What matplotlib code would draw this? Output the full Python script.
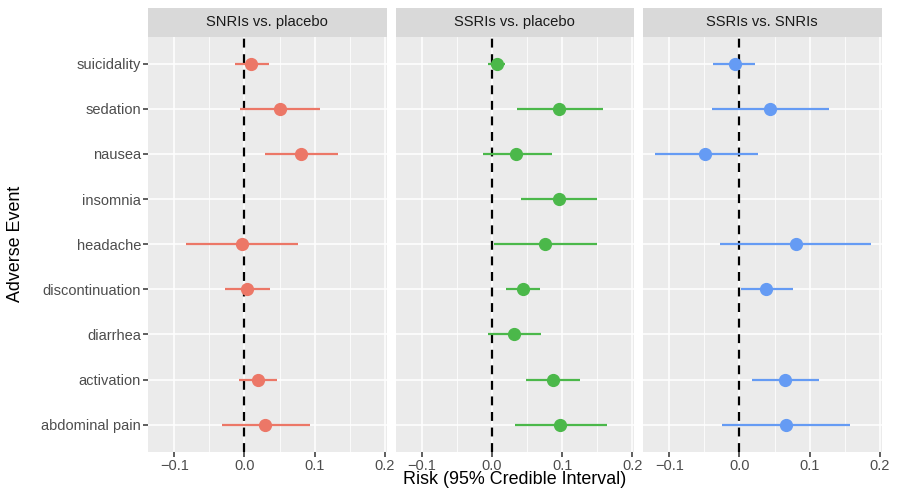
import matplotlib.pyplot as plt
import numpy as np

plt.switch_backend('Agg')
plt.rcParams['font.family'] = ['Liberation Sans', 'DejaVu Sans']

events = ["suicidality", "sedation", "nausea", "insomnia", "headache",
          "discontinuation", "diarrhea", "activation", "abdominal pain"]
panels = ["SNRIs vs. placebo", "SSRIs vs. placebo", "SSRIs vs. SNRIs"]
colors = ["#EC7767", "#4BB84A", "#659BF4"]

# estimate, lower, upper per event (nan = not reported)
nan = np.nan
snri_est = [0.010, 0.050, 0.081, nan, -0.003, 0.004, nan, 0.019, 0.030]
snri_lo = [-0.014, -0.007, 0.029, nan, -0.084, -0.028, nan, -0.008, -0.032]
snri_hi = [0.035, 0.107, 0.134, nan, 0.077, 0.037, nan, 0.047, 0.094]

ssri_est = [0.007, 0.095, 0.034, 0.095, 0.076, 0.044, 0.032, 0.087, 0.097]
ssri_lo = [-0.005, 0.036, -0.013, 0.041, 0.003, 0.020, -0.006, 0.049, 0.033]
ssri_hi = [0.019, 0.158, 0.085, 0.150, 0.150, 0.068, 0.070, 0.126, 0.164]

diff_est = [-0.007, 0.043, -0.049, nan, 0.080, 0.038, nan, 0.065, 0.067]
diff_lo = [-0.037, -0.039, -0.120, nan, -0.028, 0.002, nan, 0.018, -0.025]
diff_hi = [0.022, 0.127, 0.026, nan, 0.187, 0.077, nan, 0.113, 0.158]

series = [(snri_est, snri_lo, snri_hi),
          (ssri_est, ssri_lo, ssri_hi),
          (diff_est, diff_lo, diff_hi)]

W, H = 897, 496
fig = plt.figure(figsize=(W / 100, H / 100), dpi=100)

ypos = np.arange(len(events))[::-1] + 1  # suicidality at top
lefts = [148, 395.5, 643]
pw = 238.5
ptop, pbot = 36.7, 451.7
strip_h = 28.5

for i, (name, (est, lo, hi)) in enumerate(zip(panels, series)):
    ax = fig.add_axes([lefts[i] / W, 1 - pbot / H, pw / W, (pbot - ptop) / H])
    ax.set_facecolor("#EBEBEB")
    for s in ax.spines.values():
        s.set_visible(False)
    ax.set_xlim(-0.1375, 0.2025)
    ax.set_ylim(0.4, len(events) + 0.6)
    ax.set_xticks([-0.1, 0.0, 0.1, 0.2])
    ax.set_xticks([-0.05, 0.05, 0.15], minor=True)
    ax.set_yticks(ypos)
    ax.grid(True, which='major', color='white', linewidth=1.1)
    ax.grid(True, which='minor', axis='x', color='white', linewidth=0.55)
    ax.set_axisbelow(True)
    ax.tick_params(axis='both', which='major', length=3.5, width=1.1,
                   color='#333333', labelcolor='#4D4D4D', labelsize=10.5, pad=1.5)
    ax.tick_params(axis='x', which='minor', length=0)
    ax.set_xticklabels(["\u22120.1", "0.0", "0.1", "0.2"])
    if i == 0:
        ax.set_yticklabels(events)
    else:
        ax.set_yticklabels([])
        ax.tick_params(axis='y', length=0)

    ax.axvline(0, color='black', linestyle=(0, (4, 3)), linewidth=1.6, zorder=2)
    e = np.array(est); l = np.array(lo); h = np.array(hi)
    ok = ~np.isnan(e)
    ax.hlines(ypos[ok], l[ok], h[ok], color=colors[i], linewidth=1.6, zorder=3)
    ax.plot(e[ok], ypos[ok], 'o', color=colors[i], markersize=8.5, zorder=4)

    sax = fig.add_axes([lefts[i] / W, 1 - ptop / H, pw / W, strip_h / H])
    sax.set_facecolor("#D9D9D9")
    sax.set_xticks([]); sax.set_yticks([])
    for s in sax.spines.values():
        s.set_visible(False)
    sax.text(0.5, 0.5, name, ha='center', va='center', fontsize=10.6,
             color='#1A1A1A', transform=sax.transAxes)

fig.text(515 / W, 1 - 484 / H, "Risk (95% Credible Interval)", ha='center',
         va='baseline', fontsize=12.9, color='black')
fig.text(15 / W, 1 - 244 / H, "Adverse Event", ha='center', va='center',
         rotation=90, fontsize=12.9, color='black')

fig.savefig("out.png", dpi=100)
